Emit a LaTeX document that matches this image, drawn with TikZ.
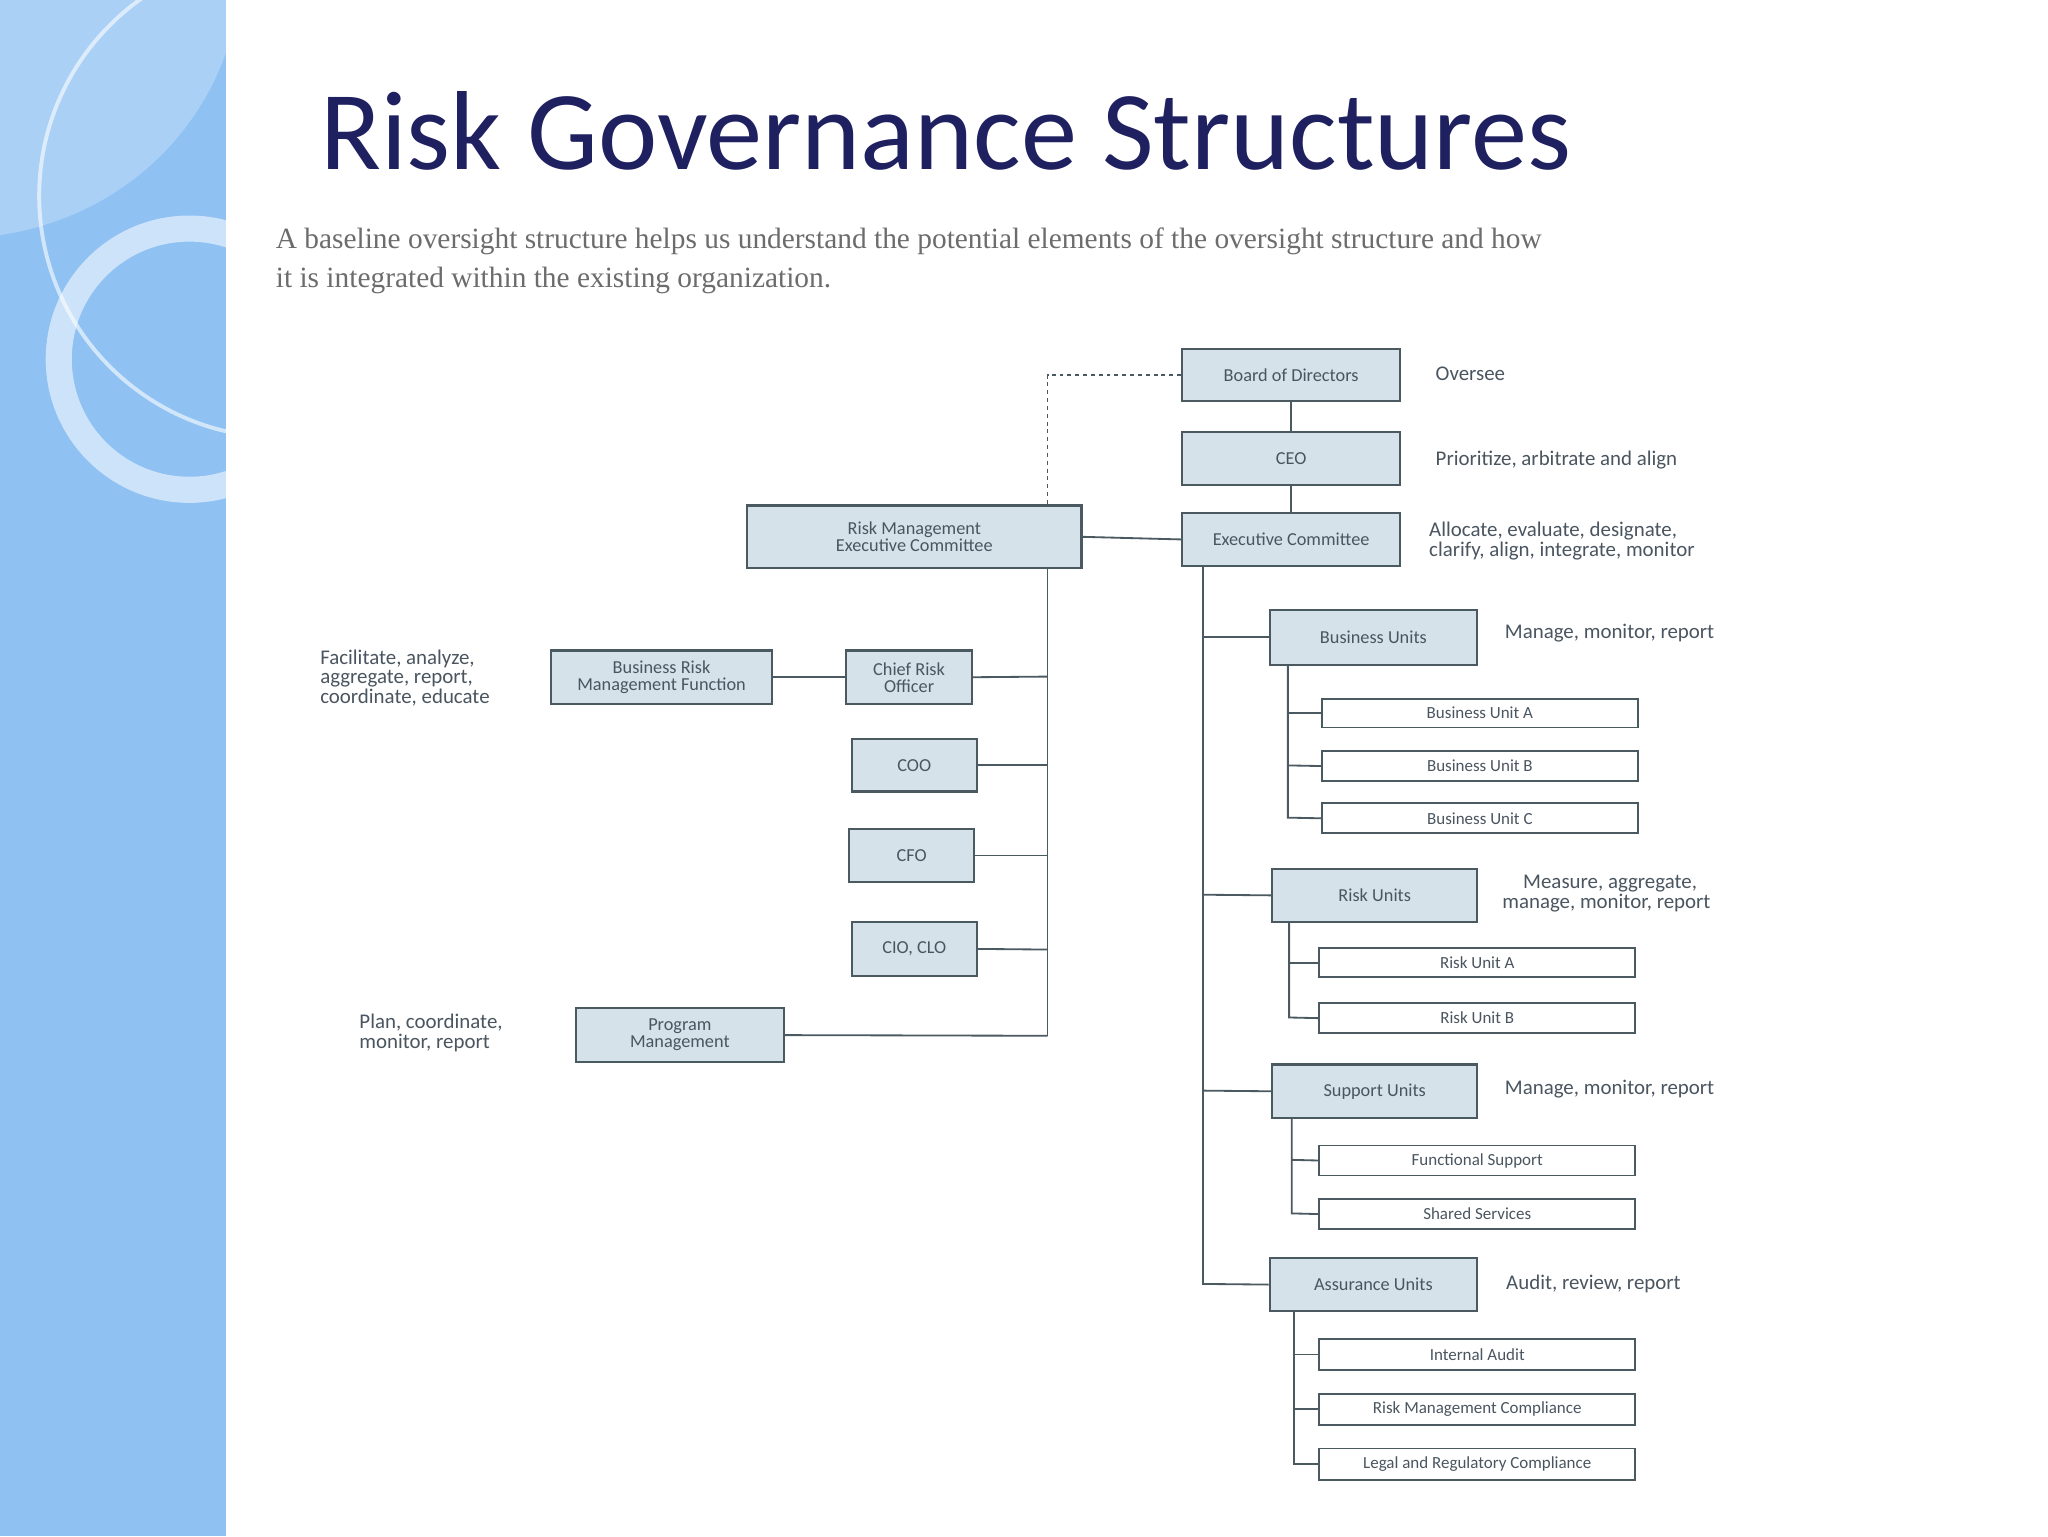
\documentclass[tikz,border=0pt]{standalone}
\usepackage{fontspec}
\setmainfont{Carlito}
\newfontfamily\serifx{Liberation Serif}
\begin{document}
\begin{tikzpicture}[x=1pt,y=-1pt,
  bx/.style={draw=boxline,fill=boxfill,line width=1.6pt,inner sep=0pt,text=boxtext,font=\fontsize{14}{13}\selectfont,align=center},
  sb/.style={draw=boxline,fill=white,line width=1.4pt,inner sep=0pt,text=boxtext,font=\fontsize{13}{13}\selectfont},
  ln/.style={draw=boxline,line width=1.4pt},
  lb/.style={anchor=west,text=boxtext,font=\fontsize{16}{15}\selectfont,align=left,inner sep=0pt}]
\definecolor{boxline}{HTML}{4A5A60}
\definecolor{boxfill}{HTML}{D6E2EA}
\definecolor{boxtext}{HTML}{4A5560}
\definecolor{strip}{HTML}{8FC1F3}
\definecolor{navy}{HTML}{1F2060}
\useasboundingbox (0,0) rectangle (1568,1176);
\fill[white] (0,0) rectangle (1568,1176);
% left strip
\fill[strip] (0,0) rectangle (173,1176);
\begin{scope}
\clip (0,0) rectangle (173,1176);
\fill[white,opacity=0.25] (0,0) -- (183,0) .. controls (170,90) and (100,165) .. (0,180) -- cycle;
\draw[white,opacity=0.6,line width=3pt] (215,150) circle (185);
\draw[white,opacity=0.55,line width=20pt] (145,275) circle (100);
\end{scope}
% title
\node[anchor=west,text=navy,font=\fontsize{86}{86}\selectfont,inner sep=0pt] (title) at (245,100) {Risk Governance Structures};
\node[anchor=north west,text=gray!85!black,font=\serifx\fontsize{22.5}{30}\selectfont,align=left,inner sep=0pt] (intro) at (211,174)
 {A baseline oversight structure helps us understand the potential elements of the oversight structure and how\\ it is integrated within the existing organization.};
% main boxes
\newcommand{\bxat}[6]{\node[bx,minimum width=#4-#2,minimum height=#5-#3] (#1) at ({(#2+#4)/2},{(#3+#5)/2}) {#6};}
\newcommand{\sbat}[6]{\node[sb,minimum width=#4-#2,minimum height=#5-#3] (#1) at ({(#2+#4)/2},{(#3+#5)/2}) {#6};}
\bxat{bod}{905}{267}{1072}{307}{Board of Directors}
\bxat{ceo}{905}{331}{1072}{371}{CEO}
\bxat{exc}{905}{393}{1072}{433}{Executive Committee}
\bxat{rmec}{572}{387}{828}{435}{Risk Management\\Executive Committee}
\bxat{brmf}{422}{498}{591}{539}{Business Risk\\Management Function}
\bxat{cro}{648}{498}{744}{539}{Chief Risk\\Officer}
\bxat{coo}{652}{566}{748}{606}{COO}
\bxat{cfo}{650}{635}{746}{675}{CFO}
\bxat{cio}{652}{706}{748}{747}{CIO, CLO}
\bxat{pm}{441}{772}{600}{813}{Program\\Management}
\bxat{bu}{972}{467}{1131}{509}{Business Units}
\bxat{ru}{974}{665}{1131}{706}{Risk Units}
\bxat{su}{974}{815}{1131}{856}{Support Units}
\bxat{au}{972}{963}{1131}{1004}{Assurance Units}
\sbat{bua}{1012}{535}{1254}{557}{Business Unit A}
\sbat{bub}{1012}{575}{1254}{598}{Business Unit B}
\sbat{buc}{1012}{615}{1254}{638}{Business Unit C}
\sbat{rua}{1010}{726}{1252}{748}{Risk Unit A}
\sbat{rub}{1010}{768}{1252}{791}{Risk Unit B}
\sbat{fs}{1010}{877}{1252}{900}{Functional Support}
\sbat{ss}{1010}{918}{1252}{941}{Shared Services}
\sbat{ia}{1010}{1025}{1252}{1049}{Internal Audit}
\sbat{rmc}{1010}{1067}{1252}{1091}{Risk Management Compliance}
\sbat{lrc}{1010}{1109}{1252}{1133}{Legal and Regulatory Compliance}
% labels
\node[lb] (l1) at (1099,286) {Oversee};
\node[lb] (l2) at (1099,352) {Prioritize, arbitrate and align};
\node[lb] (l3) at (1094,414) {Allocate, evaluate, designate,\\clarify, align, integrate, monitor};
\node[lb] (l4) at (1152,485) {Manage, monitor, report};
\node[lb] (l5) at (1150,684) {\quad Measure, aggregate,\\manage, monitor, report};
\node[lb] (l6) at (1152,834) {Manage, monitor, report};
\node[lb] (l7) at (1153,983) {Audit, review, report};
\node[lb] (l8) at (245,519) {Facilitate, analyze,\\aggregate, report,\\coordinate, educate};
\node[lb] (l9) at (275,791) {Plan, coordinate,\\monitor, report};
% connectors
\draw[ln] (bod) -- (ceo);
\draw[ln] (ceo) -- (exc);
\draw[ln] (rmec.east) -- (exc.west);
\draw[ln,dashed] (bod.west) -- (802,287) -- (802,387);
\coordinate (v1) at (802,793);
\draw[ln] (802,435) -- (v1);
\draw[ln] (cro.east) -- (802,518);
\draw[ln] (coo.east) -- (802,586);
\draw[ln] (cfo.east) -- (802,655);
\draw[ln] (cio.east) -- (802,727);
\draw[ln] (pm.east) -- (v1);
\draw[ln] (brmf.east) -- (cro.west);
\draw[ln] (921,433) -- (921,983) -- (au.west);
\draw[ln] (921,488) -- (bu.west);
\draw[ln] (921,685) -- (ru.west);
\draw[ln] (921,835) -- (su.west);
\draw[ln] (986,509) -- (986,626) -- (buc.west);
\draw[ln] (986,546) -- (bua.west);
\draw[ln] (986,586) -- (bub.west);
\draw[ln] (987,706) -- (987,779) -- (rub.west);
\draw[ln] (987,737) -- (rua.west);
\draw[ln] (989,856) -- (989,929) -- (ss.west);
\draw[ln] (989,888) -- (fs.west);
\draw[ln] (991,1004) -- (991,1121) -- (lrc.west);
\draw[ln] (991,1037) -- (ia.west);
\draw[ln] (991,1079) -- (rmc.west);
\end{tikzpicture}
\end{document}
